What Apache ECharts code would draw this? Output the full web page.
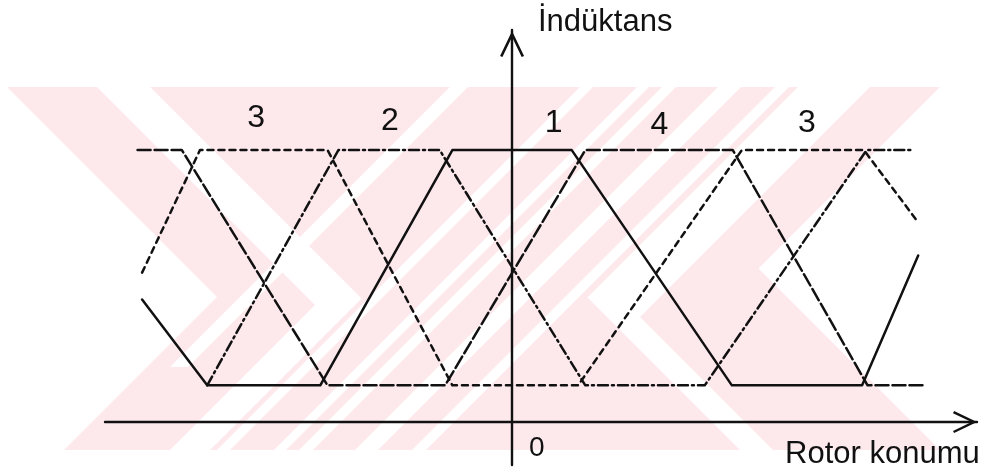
<!DOCTYPE html>
<html>
<head>
<meta charset="utf-8">
<script src="https://cdn.jsdelivr.net/npm/echarts@6/dist/echarts.min.js"></script>
<style>
  html, body { margin: 0; padding: 0; background: #ffffff; }
  #chart { width: 1006px; height: 476px; }
</style>
</head>
<body>
<div id="chart"></div>
<script>
// Corner points of each phase's inductance profile: [rotor position (deg), inductance (a.u.)]
const phase1 = [[-40.9, 5.0], [-33.7, 1.5], [-21.2, 1.5], [-6.6, 11.1], [6.6, 11.1], [24.3, 1.5], [38.7, 1.5], [44.9, 6.8]];
const phase2 = [[-33.7, 1.5], [-19.2, 11.1], [-8.0, 11.1], [8.1, 1.5], [21.3, 1.5], [39.2, 11.1], [44.4, 11.1]];
const phase3 = [[-40.9, 6.1], [-34.5, 11.1], [-20.4, 11.1], [-6.6, 1.5], [7.3, 1.5], [25.4, 11.1], [38.9, 11.1], [44.8, 8.2]];
const phase4 = [[-41.4, 11.1], [-36.5, 11.1], [-20.4, 1.5], [-7.4, 1.5], [8.1, 11.1], [24.4, 11.1], [39.3, 1.5], [45.7, 1.5]];

// Phase numbers written above the flat tops: [label, position, inductance]
const phaseTags = [['3', -28.3, 12.4], ['2', -13.5, 12.3], ['1', 4.6, 12.2], ['4', 16.3, 12.1], ['3', 32.6, 12.2]];

const axisTitleY = 'İndüktans';
const axisTitleX = 'Rotor konumu';
const originLabel = '0';

const ink = '#111111';
const tint = '#fde8ec';
const font = '"Liberation Sans", Arial, sans-serif';
// open arrow head, drawn pointing up and rotated by the axis
const openArrow = 'path://M12,0L24,25L21.6,26.2L12,6L2.4,26.2L0,25Z';

// Background chevron band: a pale field with a ">" at the left, a "<" at the right
// and thin "/" gaps in between (screen pixels).
const bandTop = 87, bandBottom = 450;
function slashGap(k0, k1, yMax) {
  // gap between the lines x + y = k0 and x + y = k1
  const y1 = Math.min(bandBottom, yMax);
  return [[k0 - bandTop, bandTop], [k1 - bandTop, bandTop], [k1 - y1, y1], [k0 - y1, y1]];
}
function poly(points, fill) {
  return { type: 'polygon', silent: true, z: -10, shape: { points: points }, style: { fill: fill } };
}
const backdrop = [
  poly([[7, 87], [940, 87], [758.5, 268.5], [940, 450], [64, 450], [217, 297]], tint),
  // gap inside the left chevron
  poly([[97, 87], [150, 87], [361.5, 298.5], [210, 450], [170, 450], [315, 305]], '#ffffff'),
  // gap on the tip side of the right chevron
  poly([[798, 87], [870, 87], [640, 317], [773, 450], [740, 450], [587.5, 297.5]], '#ffffff'),
  poly(slashGap(537, 555, 367), '#ffffff'),
  poly(slashGap(667, 680, 450), '#ffffff'),
  poly(slashGap(724, 736, 450), '#ffffff'),
  poly(slashGap(749, 763, 450), '#ffffff'),
  poly(slashGap(805, 828, 450), '#ffffff'),
  poly(slashGap(862, 876, 450), '#ffffff')
];

function lineSeries(name, data, type) {
  return {
    name: name,
    type: 'line',
    data: data,
    symbol: 'none',
    silent: true,
    lineStyle: { color: ink, width: 2.5, type: type, cap: 'round', join: 'round' },
    z: 3
  };
}

const chart = echarts.init(document.getElementById('chart'), null, { renderer: 'canvas' });

chart.setOption({
  animation: false,
  backgroundColor: '#ffffff',
  grid: { left: 105, right: 29, top: 30, bottom: 11, containLabel: false },
  xAxis: {
    type: 'value', min: -45, max: 51.4,
    axisLine: {
      onZero: true,
      symbol: ['none', openArrow],
      symbolSize: [26, 24],
      symbolOffset: [0, -12],
      lineStyle: { color: ink, width: 2.4 }
    },
    axisTick: { show: false }, axisLabel: { show: false }, splitLine: { show: false }
  },
  yAxis: {
    type: 'value', min: -1.75, max: 16,
    axisLine: {
      onZero: true,
      symbol: ['none', openArrow],
      symbolSize: [24, 28],
      symbolOffset: [0, -14],
      lineStyle: { color: ink, width: 2.4 }
    },
    axisTick: { show: false }, axisLabel: { show: false }, splitLine: { show: false }
  },
  series: [
    lineSeries('1', phase1, 'solid'),
    lineSeries('2', phase2, [10, 4, 2, 4]),
    lineSeries('3', phase3, [6, 5]),
    lineSeries('4', phase4, [13, 4]),
    {
      type: 'scatter',
      silent: true,
      symbolSize: 0,
      itemStyle: { opacity: 1 },
      data: phaseTags.map(t => ({ name: t[0], value: [t[1], t[2]] })),
      label: {
        show: true, position: 'inside', formatter: '{b}',
        color: ink, fontSize: 32, fontFamily: font, opacity: 1
      },
      z: 4
    }
  ],
  graphic: backdrop.concat([
    { type: 'text', silent: true, style: { text: axisTitleY, x: 538, y: 22, font: '31px ' + font, fill: ink, textAlign: 'left', textVerticalAlign: 'middle' } },
    { type: 'text', silent: true, style: { text: axisTitleX, x: 785, y: 454, font: '31px ' + font, fill: ink, textAlign: 'left', textVerticalAlign: 'middle' } },
    { type: 'text', silent: true, style: { text: originLabel, x: 529, y: 448, font: '28px ' + font, fill: ink, textAlign: 'left', textVerticalAlign: 'middle' } }
  ])
});
</script>
</body>
</html>
